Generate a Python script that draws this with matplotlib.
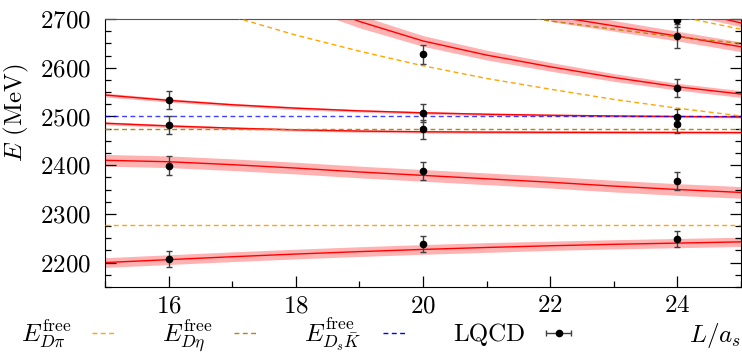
import numpy as np
import matplotlib.pyplot as plt
from matplotlib.lines import Line2D
from matplotlib.ticker import MultipleLocator

plt.rcParams['font.family'] = 'serif'
plt.rcParams['font.serif'] = ['cmr10']
plt.rcParams['mathtext.fontset'] = 'cm'
plt.rcParams['axes.formatter.use_mathtext'] = True
plt.rcParams['font.size'] = 18

# fitted levels, with band half widths
L_all = [15, 16, 17, 18, 19, 20, 21, 22, 23, 24, 25]
fit1 = [2200, 2206, 2212, 2217.5, 2222.5, 2227, 2231, 2234.5, 2237.5, 2240, 2242.5]
fit1_err = [10, 10, 10, 10, 10, 10, 10, 9.5, 9.5, 9.5, 9.5]
fit2 = [2410, 2407, 2401, 2394, 2386, 2379, 2372, 2365, 2357, 2350, 2344]
fit2_err = [12, 12, 12, 12, 12, 12, 12, 12, 12, 12, 12]
fit3 = [2486, 2480.5, 2476, 2472.5, 2470, 2468.5, 2467.8, 2467.5, 2467.3, 2467.2, 2467]
fit3_err = [3, 3, 2.5, 2.5, 2.5, 2.5, 2.5, 2.5, 2.5, 2.5, 2.5]
fit4 = [2544, 2533, 2524, 2517, 2511.5, 2507.5, 2504.5, 2502.5, 2501, 2500, 2499]
fit4_err = [4, 3.5, 3, 3, 2.5, 2.5, 2.5, 2, 2, 2, 2]
L_fit5 = [18, 19, 20, 21, 22, 23, 24, 25]
fit5 = [2745, 2695, 2655, 2626, 2602, 2580, 2561, 2546]
fit5_err = [16, 13, 11, 10, 9, 8, 7, 7]
L_fit6 = [22, 23, 24, 25]
fit6 = [2707, 2686, 2665, 2643]
fit6_err = [12, 11, 10, 10]
L_fit7 = [24, 25]
fit7 = [2722, 2692]
fit7_err = [8, 8]

# free energies
Dpi_thr = 2277
Deta_thr = 2474
DsK_thr = 2500
Dpi_1 = [2801, 2749, 2705, 2667, 2634, 2604, 2578, 2556, 2535, 2517, 2501]
L_Dpi_2 = [23, 24, 25]
Dpi_2 = [2737, 2706, 2679]
L_Deta_1 = [21, 22, 23, 24, 25]
Deta_1 = [2716, 2696, 2679, 2663, 2650]

# lattice points
L_pts = [16, 16, 16, 16, 20, 20, 20, 20, 20, 24, 24, 24, 24, 24, 24, 24]
E_pts = [2207.5, 2399, 2482.5, 2534, 2238, 2388, 2473.5, 2507.5, 2628,
         2248.5, 2367, 2484, 2498, 2558, 2665, 2698]
E_errs = [17, 19, 19, 19, 17, 18, 19, 18, 19.5,
          17, 18, 19, 17, 18, 25, 15]

fig = plt.figure(figsize=(7.42, 3.56), dpi=100)
ax = fig.add_axes([0.1415, 0.194, 0.857, 0.7526])

fits = [(L_all, fit1, fit1_err), (L_all, fit2, fit2_err), (L_all, fit3, fit3_err),
        (L_all, fit4, fit4_err), (L_fit5, fit5, fit5_err),
        (L_fit6, fit6, fit6_err), (L_fit7, fit7, fit7_err)]
for L, E, dE in fits:
    E = np.array(E)
    dE = np.array(dE)
    ax.fill_between(L, E - dE, E + dE, color='red', alpha=0.3, lw=0, zorder=1)
    ax.plot(L, E, color='red', lw=1, zorder=2)

dash = (0, (3.5, 2.5))
ax.axhline(Dpi_thr, color='orange', ls=dash, lw=1, zorder=3)
ax.plot(L_all, Dpi_1, color='orange', ls=dash, lw=1, zorder=3)
ax.plot(L_Dpi_2, Dpi_2, color='orange', ls=dash, lw=1, zorder=3)
ax.axhline(Deta_thr, color='darkgoldenrod', ls=dash, lw=1, zorder=3)
ax.plot(L_Deta_1, Deta_1, color='darkgoldenrod', ls=dash, lw=1, zorder=3)
ax.axhline(DsK_thr, color='blue', ls=dash, lw=1, alpha=0.75, zorder=3)

ax.errorbar(L_pts, E_pts, yerr=E_errs, fmt='o', color='k', ms=4.5,
            ecolor='0.25', elinewidth=1, capsize=2.5, capthick=1, zorder=5)

ax.set_xlim(15, 25)
ax.set_ylim(2150, 2700)
ax.xaxis.set_major_locator(MultipleLocator(2))
ax.xaxis.set_minor_locator(MultipleLocator(1))
ax.yaxis.set_major_locator(MultipleLocator(100))
ax.yaxis.set_minor_locator(MultipleLocator(25))
ax.tick_params(which='both', direction='in', top=False, right=True, width=0.9)
ax.tick_params(which='major', length=8)
ax.tick_params(which='minor', length=4.3)
ax.tick_params(axis='y', pad=10)
ax.tick_params(axis='x', pad=6)
ax.spines['top'].set_color('#555555')
ax.spines['top'].set_linewidth(0.8)

ax.set_ylabel(r'$E$ (MeV)', va='center')
ax.yaxis.set_label_coords(-0.139, 0.65)
ax.set_xlabel(r'$L/a_s$', ha='right', va='center')
ax.xaxis.set_label_coords(1.0, -0.18)

h_dpi = Line2D([], [], color='orange', ls=dash, lw=1)
h_deta = Line2D([], [], color='darkgoldenrod', ls=dash, lw=1)
h_dsk = Line2D([], [], color='blue', ls=dash, lw=1)
h_lqcd = ax.errorbar([np.nan], [np.nan], xerr=[1], fmt='o', color='k', ms=4.5,
                     ecolor='0.25', elinewidth=1, capsize=2.5, capthick=1)
fig.legend([h_dpi, h_deta, h_dsk, h_lqcd],
           [r'$E^{\rm free}_{D\pi}$', r'$E^{\rm free}_{D\eta}$',
            r'$E^{\rm free}_{D_s\bar{K}}$', 'LQCD'],
           loc='center left', bbox_to_anchor=(0.028, 0.06), ncol=4,
           frameon=False, markerfirst=False, handlelength=1.0,
           handletextpad=0.85, columnspacing=1.8, borderpad=0, borderaxespad=0)

fig.savefig('out.png', dpi=100)
